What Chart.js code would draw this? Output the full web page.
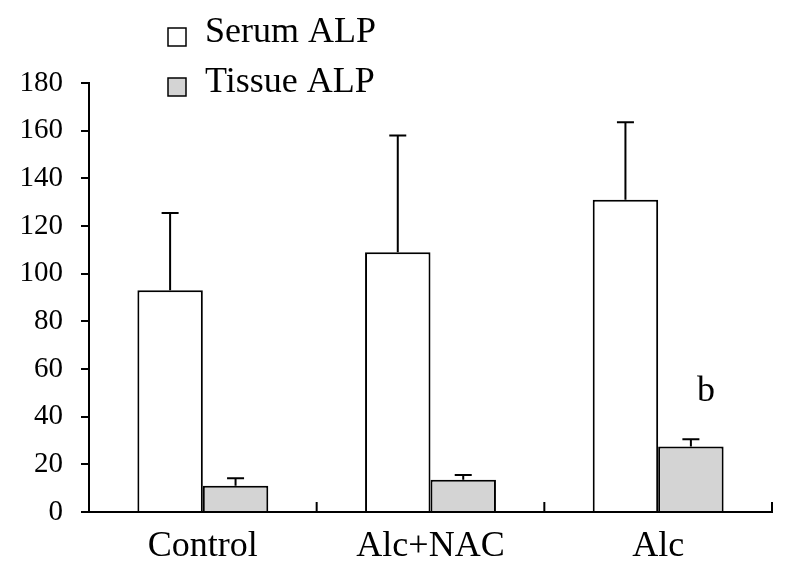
<!DOCTYPE html>
<html>
<head>
<meta charset="utf-8">
<script src="https://cdn.jsdelivr.net/npm/chart.js@4/dist/chart.umd.min.js"></script>
<style>
  html, body { margin: 0; padding: 0; background: #ffffff; }
  #wrap { width: 789px; height: 573px; }
</style>
</head>
<body>
<div id="wrap"><canvas id="c" width="789" height="573"></canvas></div>
<script>
// ---- data ----
const categories = ["Control", "Alc+NAC", "Alc"];
const serumALP = [93, 109, 131];
const serumErr = [32.5, 49, 32.5];
const tissueALP = [11, 13.5, 27.5];
const tissueErr = [3.2, 2, 3];
const tissueMarks = ["", "", "b"];
const yTicks = [0, 20, 40, 60, 80, 100, 120, 140, 160, 180];

const FONT = '"Liberation Serif", "Times New Roman", serif';

const errorBars = {
  id: 'errorBars',
  afterDatasetsDraw(chart) {
    const ctx = chart.ctx;
    const y = chart.scales.y;
    chart.data.datasets.forEach((ds, di) => {
      const meta = chart.getDatasetMeta(di);
      meta.data.forEach((bar, i) => {
        const v = ds.data[i], e = ds.errors[i];
        const top = y.getPixelForValue(v + e);
        ctx.save();
        ctx.strokeStyle = '#000';
        ctx.lineWidth = 2;
        ctx.beginPath();
        ctx.moveTo(bar.x, bar.y);
        ctx.lineTo(bar.x, top);
        ctx.moveTo(bar.x - 8.5, top);
        ctx.lineTo(bar.x + 8.5, top);
        ctx.stroke();
        if (ds.marks && ds.marks[i]) {
          ctx.fillStyle = '#000';
          ctx.font = '36px ' + FONT;
          ctx.textAlign = 'center';
          ctx.textBaseline = 'alphabetic';
          ctx.fillText(ds.marks[i], bar.x + 15, top - 38);
        }
        ctx.restore();
      });
    });
  }
};

const innerTicks = {
  id: 'innerTicks',
  afterDraw(chart) {
    const x = chart.scales.x;
    const ctx = chart.ctx;
    const half = (x.getPixelForValue(1) - x.getPixelForValue(0)) / 2;
    ctx.save();
    ctx.strokeStyle = '#000';
    ctx.lineWidth = 2;
    for (let i = 0; i < categories.length; i++) {
      const px = x.getPixelForValue(i) + half;
      ctx.beginPath();
      ctx.moveTo(px, x.top);
      ctx.lineTo(px, x.top - 10);
      ctx.stroke();
    }
    ctx.restore();
  }
};

const customLegend = {
  id: 'customLegend',
  afterDraw(chart) {
    const ctx = chart.ctx;
    ctx.save();
    chart.data.datasets.forEach((ds, i) => {
      const bx = 168, by = 28 + i * 50;
      ctx.fillStyle = ds.backgroundColor;
      ctx.fillRect(bx, by, 18, 18);
      ctx.strokeStyle = '#000';
      ctx.lineWidth = 1.5;
      ctx.strokeRect(bx, by, 18, 18);
      ctx.fillStyle = '#000';
      ctx.font = '36px ' + FONT;
      ctx.textAlign = 'left';
      ctx.textBaseline = 'alphabetic';
      ctx.fillText(ds.label, 205, by + 14);
    });
    ctx.restore();
  }
};

new Chart(document.getElementById('c'), {
  type: 'bar',
  data: {
    labels: categories,
    datasets: [
      { label: 'Serum ALP', data: serumALP, errors: serumErr, backgroundColor: '#ffffff',
        borderColor: '#000', borderWidth: 2 },
      { label: 'Tissue ALP', data: tissueALP, errors: tissueErr, marks: tissueMarks,
        backgroundColor: '#d4d4d4', borderColor: '#000', borderWidth: 2 }
    ]
  },
  options: {
    responsive: false,
    animation: false,
    layout: { padding: { top: 83, right: 17, left: 0, bottom: 0 } },
    datasets: { bar: { categoryPercentage: 0.575, barPercentage: 1 } },
    plugins: { legend: { display: false }, tooltip: { enabled: false } },
    scales: {
      x: {
        grid: { display: true, drawOnChartArea: false, drawTicks: false, color: '#000' },
        border: { display: true, color: '#000', width: 2 },
        ticks: { color: '#000', font: { family: FONT, size: 36 }, padding: 13 },
        afterFit(s) { s.height = 61; }
      },
      y: {
        min: 0, max: 180,
        afterBuildTicks(s) { s.ticks = yTicks.map(v => ({ value: v })); },
        grid: { display: true, drawOnChartArea: false, drawTicks: true, tickLength: 8, color: '#000', lineWidth: 2 },
        border: { display: true, color: '#000', width: 2 },
        ticks: { color: '#000', font: { family: FONT, size: 29 }, padding: 18 },
        afterFit(s) { s.width = 89; }
      }
    }
  },
  plugins: [errorBars, innerTicks, customLegend]
});
</script>
</body>
</html>
